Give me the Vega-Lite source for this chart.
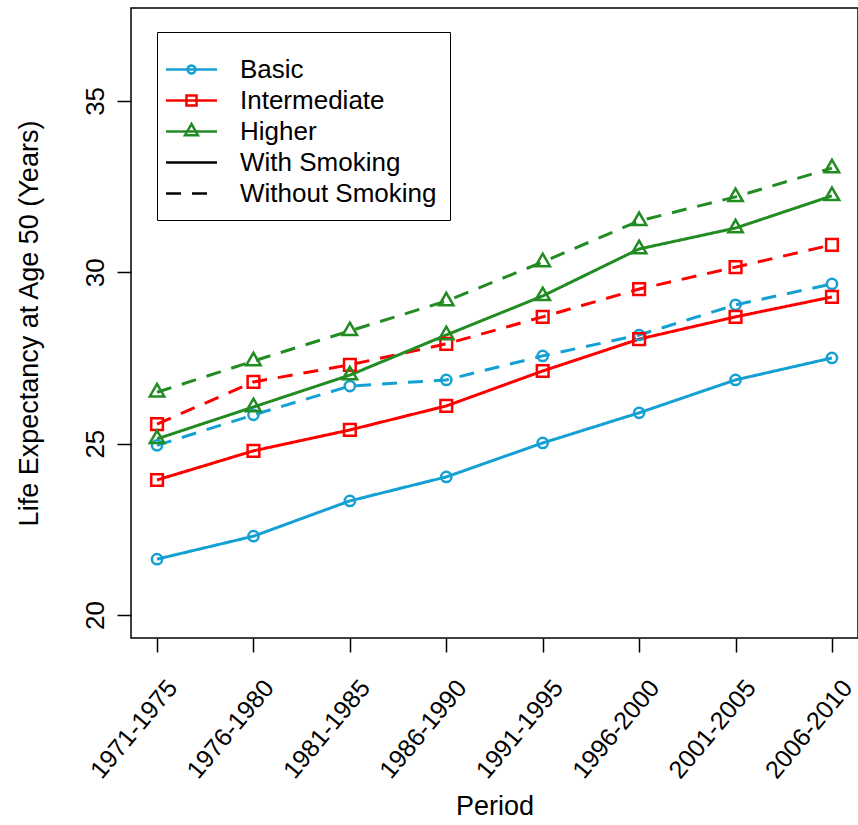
{
  "$schema": "https://vega.github.io/schema/vega-lite/v6.json",
  "autosize": {"type": "none"},
  "padding": {"left": 131, "top": 8, "right": 0, "bottom": 187},
  "width": 727,
  "height": 630,
  "background": "white",
  "config": {
    "font": "Liberation Sans",
    "view": {"stroke": "black", "strokeWidth": 1.5},
    "axis": {
      "domain": false, "grid": false, "ticks": true, "tickColor": "black", "tickWidth": 1.5, "tickSize": 14,
      "labelColor": "black", "titleColor": "black", "labelFont": "Liberation Sans", "titleFont": "Liberation Sans",
      "labelFontSize": 26, "titleFontSize": 27, "titleFontWeight": "normal"
    }
  },
  "data": {
    "values": [
      {"period": "1971-1975", "education": "Basic", "smoking": "With Smoking", "value": 21.63},
      {"period": "1976-1980", "education": "Basic", "smoking": "With Smoking", "value": 22.3},
      {"period": "1981-1985", "education": "Basic", "smoking": "With Smoking", "value": 23.33},
      {"period": "1986-1990", "education": "Basic", "smoking": "With Smoking", "value": 24.03},
      {"period": "1991-1995", "education": "Basic", "smoking": "With Smoking", "value": 25.02},
      {"period": "1996-2000", "education": "Basic", "smoking": "With Smoking", "value": 25.9},
      {"period": "2001-2005", "education": "Basic", "smoking": "With Smoking", "value": 26.86},
      {"period": "2006-2010", "education": "Basic", "smoking": "With Smoking", "value": 27.5},
      {"period": "1971-1975", "education": "Basic", "smoking": "Without Smoking", "value": 24.95},
      {"period": "1976-1980", "education": "Basic", "smoking": "Without Smoking", "value": 25.84},
      {"period": "1981-1985", "education": "Basic", "smoking": "Without Smoking", "value": 26.68},
      {"period": "1986-1990", "education": "Basic", "smoking": "Without Smoking", "value": 26.86},
      {"period": "1991-1995", "education": "Basic", "smoking": "Without Smoking", "value": 27.56},
      {"period": "1996-2000", "education": "Basic", "smoking": "Without Smoking", "value": 28.17},
      {"period": "2001-2005", "education": "Basic", "smoking": "Without Smoking", "value": 29.05},
      {"period": "2006-2010", "education": "Basic", "smoking": "Without Smoking", "value": 29.66},
      {"period": "1971-1975", "education": "Intermediate", "smoking": "With Smoking", "value": 23.94},
      {"period": "1976-1980", "education": "Intermediate", "smoking": "With Smoking", "value": 24.79},
      {"period": "1981-1985", "education": "Intermediate", "smoking": "With Smoking", "value": 25.4},
      {"period": "1986-1990", "education": "Intermediate", "smoking": "With Smoking", "value": 26.1},
      {"period": "1991-1995", "education": "Intermediate", "smoking": "With Smoking", "value": 27.12},
      {"period": "1996-2000", "education": "Intermediate", "smoking": "With Smoking", "value": 28.05},
      {"period": "2001-2005", "education": "Intermediate", "smoking": "With Smoking", "value": 28.7},
      {"period": "2006-2010", "education": "Intermediate", "smoking": "With Smoking", "value": 29.28},
      {"period": "1971-1975", "education": "Intermediate", "smoking": "Without Smoking", "value": 25.57},
      {"period": "1976-1980", "education": "Intermediate", "smoking": "Without Smoking", "value": 26.8},
      {"period": "1981-1985", "education": "Intermediate", "smoking": "Without Smoking", "value": 27.3},
      {"period": "1986-1990", "education": "Intermediate", "smoking": "Without Smoking", "value": 27.91},
      {"period": "1991-1995", "education": "Intermediate", "smoking": "Without Smoking", "value": 28.7},
      {"period": "1996-2000", "education": "Intermediate", "smoking": "Without Smoking", "value": 29.51},
      {"period": "2001-2005", "education": "Intermediate", "smoking": "Without Smoking", "value": 30.15},
      {"period": "2006-2010", "education": "Intermediate", "smoking": "Without Smoking", "value": 30.8},
      {"period": "1971-1975", "education": "Higher", "smoking": "With Smoking", "value": 25.14},
      {"period": "1976-1980", "education": "Higher", "smoking": "With Smoking", "value": 26.07},
      {"period": "1981-1985", "education": "Higher", "smoking": "With Smoking", "value": 27.0},
      {"period": "1986-1990", "education": "Higher", "smoking": "With Smoking", "value": 28.17},
      {"period": "1991-1995", "education": "Higher", "smoking": "With Smoking", "value": 29.31},
      {"period": "1996-2000", "education": "Higher", "smoking": "With Smoking", "value": 30.68},
      {"period": "2001-2005", "education": "Higher", "smoking": "With Smoking", "value": 31.29},
      {"period": "2006-2010", "education": "Higher", "smoking": "With Smoking", "value": 32.23},
      {"period": "1971-1975", "education": "Higher", "smoking": "Without Smoking", "value": 26.5},
      {"period": "1976-1980", "education": "Higher", "smoking": "Without Smoking", "value": 27.41},
      {"period": "1981-1985", "education": "Higher", "smoking": "Without Smoking", "value": 28.29},
      {"period": "1986-1990", "education": "Higher", "smoking": "Without Smoking", "value": 29.16},
      {"period": "1991-1995", "education": "Higher", "smoking": "Without Smoking", "value": 30.3},
      {"period": "1996-2000", "education": "Higher", "smoking": "Without Smoking", "value": 31.5},
      {"period": "2001-2005", "education": "Higher", "smoking": "Without Smoking", "value": 32.2},
      {"period": "2006-2010", "education": "Higher", "smoking": "Without Smoking", "value": 33.04}
    ]
  },
  "encoding": {
    "x": {
      "field": "period", "type": "ordinal", "sort": null,
      "scale": {"type": "point", "padding": 0.27},
      "axis": {"title": "Period", "labelAngle": -50, "labelAlign": "right", "labelBaseline": "middle", "labelFontSize": 25, "labelPadding": 31, "labelOffset": 15, "titleY": 168, "titleBaseline": "middle", "labelOverlap": false, "labelLimit": 300}
    },
    "y": {
      "field": "value", "type": "quantitative",
      "scale": {"domain": [19.33, 37.71], "nice": false, "zero": false},
      "axis": {"title": "Life Expectancy at Age 50 (Years)", "values": [20, 25, 30, 35], "labelAngle": 270, "labelAlign": "center", "labelBaseline": "middle", "labelPadding": 22, "titleX": -102, "titleBaseline": "middle"}
    },
    "color": {
      "field": "education", "type": "nominal",
      "scale": {"domain": ["Basic", "Intermediate", "Higher", "With Smoking", "Without Smoking"], "range": ["#14a0d2", "#ff0000", "#228b22", "black", "black"]},
      "legend": {
        "orient": "none", "legendX": 26, "legendY": 24, "title": " ", "titleFontSize": 7, "titlePadding": 2,
        "strokeColor": "black", "padding": 13, "symbolOffset": 6,
        "symbolSize": 784, "symbolStrokeWidth": 2.5, "rowPadding": 2,
        "labelFontSize": 26, "labelFont": "Liberation Sans", "labelColor": "black", "labelOffset": 33, "labelLimit": 400,
        "encode": {
          "symbols": {
            "update": {
              "shape": {"signal": "datum.value === 'Basic' ? 'M-1.82,0H1.82M0.28,0A0.28,0.28 0 1,1 -0.28,0A0.28,0.28 0 1,1 0.28,0' : datum.value === 'Intermediate' ? 'M-1.82,0H1.82M-0.36,-0.36H0.36V0.36H-0.36Z' : datum.value === 'Higher' ? 'M-1.82,0H1.82M0,-0.54L0.46,0.27H-0.46Z' : 'M-1.82,0H1.82'"},
              "strokeDash": {"signal": "datum.value === 'Without Smoking' ? [15, 11] : [1, 0]"},
              "fill": {"value": "transparent"},
              "opacity": {"value": 1}
            }
          }
        }
      }
    }
  },
  "layer": [
    {
      "mark": {"type": "line", "strokeWidth": 3},
      "encoding": {
        "strokeDash": {
          "field": "smoking", "type": "nominal",
          "scale": {"domain": ["With Smoking", "Without Smoking"], "range": [[1, 0], [15, 11]]},
          "legend": null
        }
      }
    },
    {
      "mark": {"type": "point", "filled": false, "strokeWidth": 2.5, "opacity": 1, "size": 225},
      "encoding": {
        "shape": {
          "field": "education", "type": "nominal",
          "scale": {"domain": ["Basic", "Intermediate", "Higher"], "range": ["M0.68,0A0.68,0.68 0 1,1 -0.68,0A0.68,0.68 0 1,1 0.68,0Z", "M-0.78,-0.78H0.78V0.78H-0.78Z", "M0,-1.1L0.96,0.56H-0.96Z"]},
          "legend": null
        },
        "detail": {"field": "smoking"}
      }
    }
  ]
}
